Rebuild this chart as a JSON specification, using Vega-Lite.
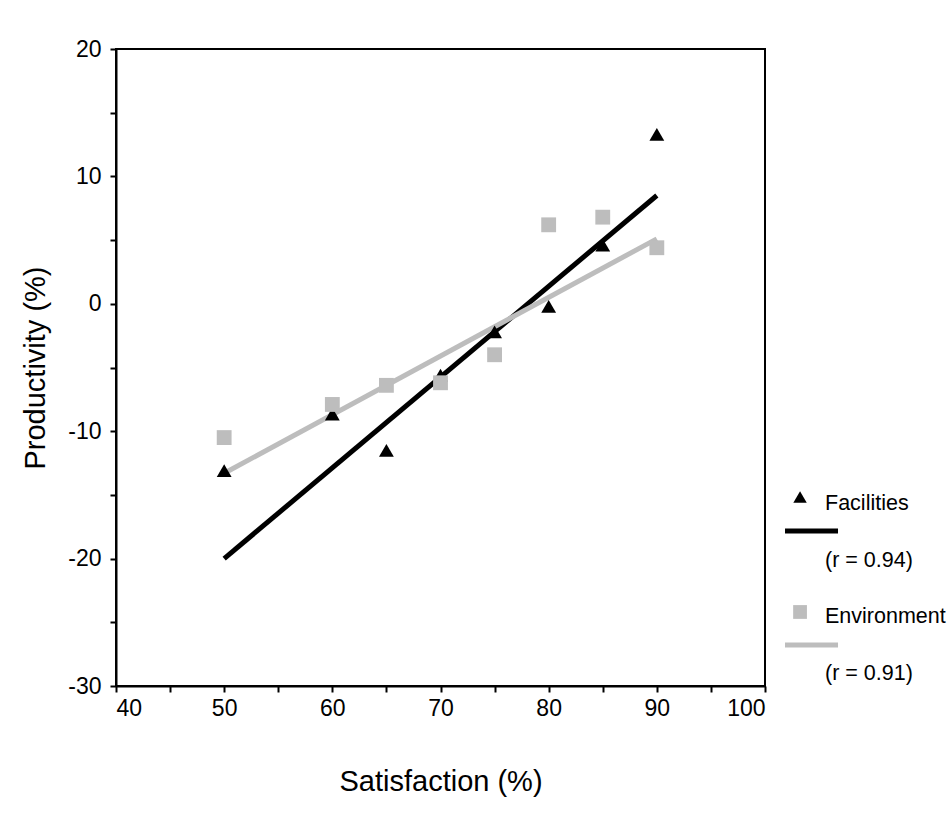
{
  "$schema": "https://vega.github.io/schema/vega-lite/v6.json",
  "width": 649,
  "height": 637,
  "autosize": {"type": "none"},
  "padding": {"left": 116, "top": 49, "right": 187, "bottom": 127},
  "background": "white",
  "config": {
    "font": "Liberation Sans",
    "view": {"stroke": "black", "strokeWidth": 2},
    "axis": {
      "grid": false,
      "domainColor": "black",
      "domainWidth": 2,
      "tickColor": "black",
      "tickWidth": 2,
      "tickSize": 6,
      "labelColor": "black",
      "labelFont": "Liberation Sans",
      "labelFontSize": 23,
      "titleColor": "black",
      "titleFont": "Liberation Sans",
      "titleFontSize": 29,
      "titleFontWeight": "normal"
    }
  },
  "datasets": {
    "points": [
      {"series": "Facilities", "sat": 50, "prod": -13.1},
      {"series": "Facilities", "sat": 60, "prod": -8.65},
      {"series": "Facilities", "sat": 65, "prod": -11.5},
      {"series": "Facilities", "sat": 70, "prod": -5.6},
      {"series": "Facilities", "sat": 75, "prod": -2.2},
      {"series": "Facilities", "sat": 80, "prod": -0.2},
      {"series": "Facilities", "sat": 85, "prod": 4.6},
      {"series": "Facilities", "sat": 90, "prod": 13.3},
      {"series": "Environment", "sat": 50, "prod": -10.5},
      {"series": "Environment", "sat": 60, "prod": -7.9},
      {"series": "Environment", "sat": 65, "prod": -6.4},
      {"series": "Environment", "sat": 70, "prod": -6.2},
      {"series": "Environment", "sat": 75, "prod": -4.0},
      {"series": "Environment", "sat": 80, "prod": 6.2},
      {"series": "Environment", "sat": 85, "prod": 6.8},
      {"series": "Environment", "sat": 90, "prod": 4.4}
    ],
    "fits": [
      {"series": "Facilities", "sat": 50, "prod": -20.0},
      {"series": "Facilities", "sat": 90, "prod": 8.5},
      {"series": "Environment", "sat": 50, "prod": -13.3},
      {"series": "Environment", "sat": 90, "prod": 5.1}
    ],
    "one": [{}]
  },
  "layer": [
    {
      "data": {"name": "fits"},
      "mark": {"type": "line", "strokeWidth": 5},
      "encoding": {
        "x": {
          "field": "sat", "type": "quantitative",
          "scale": {"domain": [40, 100], "nice": false, "zero": false},
          "axis": {
            "title": "Satisfaction (%)",
            "values": [40, 45, 50, 55, 60, 65, 70, 75, 80, 85, 90, 95, 100],
            "labelExpr": "datum.value % 10 == 0 ? '' + datum.value : ''",
            "labelPadding": 5,
            "titlePadding": 47
          }
        },
        "y": {
          "field": "prod", "type": "quantitative",
          "scale": {"domain": [-30, 20], "nice": false, "zero": false},
          "axis": {
            "title": "Productivity (%)",
            "values": [-30, -25, -20, -15, -10, -5, 0, 5, 10, 15, 20],
            "labelExpr": "datum.value % 10 == 0 ? '' + datum.value : ''",
            "labelPadding": 9,
            "titlePadding": 17
          }
        },
        "color": {
          "field": "series", "type": "nominal",
          "scale": {"domain": ["Facilities", "Environment"], "range": ["#000000", "#bdbdbd"]},
          "legend": null
        },
        "detail": {"field": "series"}
      }
    },
    {
      "data": {"name": "points"},
      "mark": {"type": "point", "filled": true, "opacity": 1, "size": 220},
      "encoding": {
        "x": {"field": "sat", "type": "quantitative"},
        "y": {"field": "prod", "type": "quantitative"},
        "color": {"field": "series", "type": "nominal", "legend": null},
        "shape": {
          "field": "series", "type": "nominal",
          "scale": {"domain": ["Facilities", "Environment"], "range": ["triangle-up", "square"]},
          "legend": null
        }
      }
    },
    {
      "data": {"name": "one"},
      "mark": {"type": "point", "filled": true, "opacity": 1, "size": 180, "shape": "triangle-up", "color": "black"},
      "encoding": {"x": {"datum": 103.24}, "y": {"datum": -15.16}}
    },
    {
      "data": {"name": "one"},
      "mark": {"type": "point", "filled": true, "opacity": 1, "size": 190, "shape": "square", "color": "#bdbdbd"},
      "encoding": {"x": {"datum": 103.24}, "y": {"datum": -24.19}}
    },
    {
      "data": {"name": "one"},
      "mark": {"type": "rule", "strokeWidth": 5, "color": "black"},
      "encoding": {"x": {"datum": 101.85}, "x2": {"datum": 106.75}, "y": {"datum": -17.83}}
    },
    {
      "data": {"name": "one"},
      "mark": {"type": "rule", "strokeWidth": 5, "color": "#bdbdbd"},
      "encoding": {"x": {"datum": 101.85}, "x2": {"datum": 106.75}, "y": {"datum": -26.78}}
    },
    {
      "data": {"name": "one"},
      "mark": {"type": "text", "align": "left", "baseline": "middle", "fontSize": 21.5, "font": "Liberation Sans", "color": "black", "text": "Facilities"},
      "encoding": {"x": {"datum": 105.55}, "y": {"datum": -15.7}}
    },
    {
      "data": {"name": "one"},
      "mark": {"type": "text", "align": "left", "baseline": "middle", "fontSize": 21.5, "font": "Liberation Sans", "color": "black", "text": "(r = 0.94)"},
      "encoding": {"x": {"datum": 105.55}, "y": {"datum": -20.19}}
    },
    {
      "data": {"name": "one"},
      "mark": {"type": "text", "align": "left", "baseline": "middle", "fontSize": 21.5, "font": "Liberation Sans", "color": "black", "text": "Environment"},
      "encoding": {"x": {"datum": 105.55}, "y": {"datum": -24.58}}
    },
    {
      "data": {"name": "one"},
      "mark": {"type": "text", "align": "left", "baseline": "middle", "fontSize": 21.5, "font": "Liberation Sans", "color": "black", "text": "(r = 0.91)"},
      "encoding": {"x": {"datum": 105.55}, "y": {"datum": -29.06}}
    }
  ]
}
